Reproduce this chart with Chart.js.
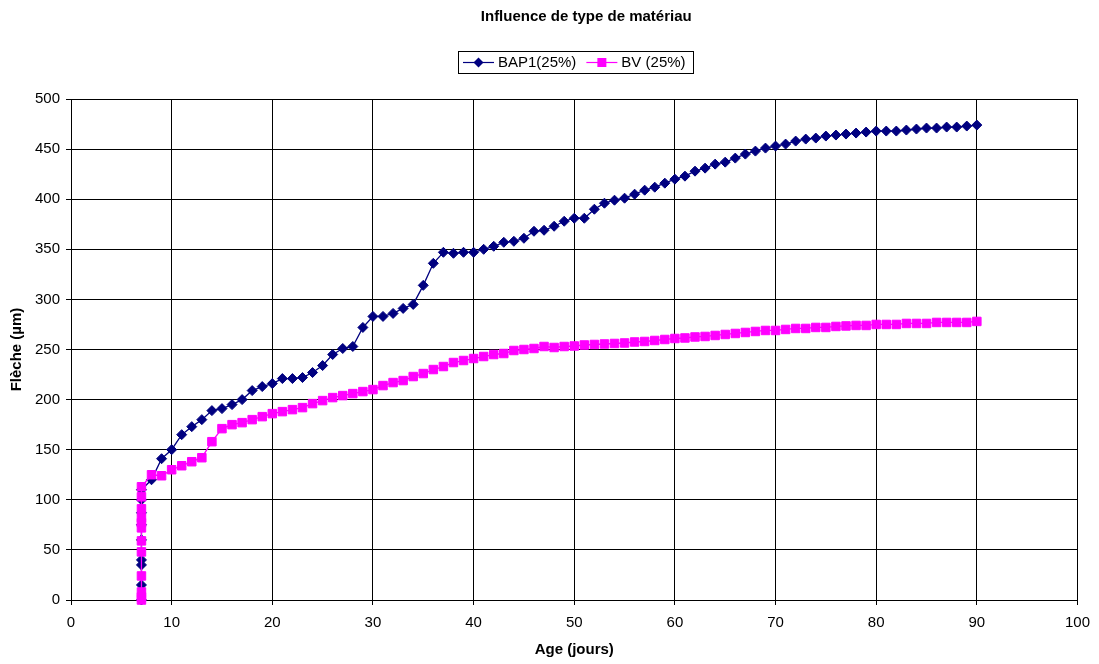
<!DOCTYPE html>
<html>
<head>
<meta charset="utf-8">
<script src="https://cdn.jsdelivr.net/npm/chart.js@4/dist/chart.umd.min.js"></script>
<style>
  html, body { margin: 0; padding: 0; background: #fff; }
  #wrap { width: 1099px; height: 664px; }
</style>
</head>
<body>
<div id="wrap"><canvas id="c" width="1099" height="664"></canvas></div>
<script>
// Âge (jours) et flèche mesurée (µm) pour chaque série
const ageBAP1 = [7, 7, 7, 7, 7, 7, 7, 7, 7,
  8, 9, 10, 11, 12, 13, 14, 15, 16, 17, 18, 19, 20, 21, 22, 23, 24, 25, 26, 27, 28, 29,
  30, 31, 32, 33, 34, 35, 36, 37, 38, 39, 40, 41, 42, 43, 44, 45, 46, 47, 48, 49,
  50, 51, 52, 53, 54, 55, 56, 57, 58, 59, 60, 61, 62, 63, 64, 65, 66, 67, 68, 69,
  70, 71, 72, 73, 74, 75, 76, 77, 78, 79, 80, 81, 82, 83, 84, 85, 86, 87, 88, 89, 90];
const flecheBAP1 = [0, 15, 35, 40, 60, 75, 87, 100, 110,
  120, 141, 150, 165, 173, 180, 189, 191, 195, 200, 209, 213, 216, 221, 221, 222, 227, 234, 245, 251, 253, 272,
  283, 283, 286, 291, 295, 314, 336, 347, 346, 347, 347, 350, 353, 357, 358, 361, 368, 369, 373, 378,
  381, 381, 390, 396, 399, 401, 405, 409, 412, 416, 420, 423, 428, 431, 435, 437, 441, 445, 448, 451,
  453, 455, 458, 460, 461, 463, 464, 465, 466, 467, 468, 468, 468, 469, 470, 471, 471, 472, 472, 473, 474];

const ageBV = [7, 7, 7, 7, 7, 7, 7, 7, 7, 7, 7, 7,
  8, 9, 10, 11, 12, 13, 14, 15, 16, 17, 18, 19, 20, 21, 22, 23, 24, 25, 26, 27, 28, 29,
  30, 31, 32, 33, 34, 35, 36, 37, 38, 39, 40, 41, 42, 43, 44, 45, 46, 47, 48, 49,
  50, 51, 52, 53, 54, 55, 56, 57, 58, 59, 60, 61, 62, 63, 64, 65, 66, 67, 68, 69,
  70, 71, 72, 73, 74, 75, 76, 77, 78, 79, 80, 81, 82, 83, 84, 85, 86, 87, 88, 89, 90];
const flecheBV = [0, 3, 8, 24, 48, 59, 72, 77, 82, 91, 103, 113,
  125, 124, 130, 134, 138, 142, 158, 171, 175, 177, 180, 183, 186, 188, 190, 192, 196, 199, 202, 204, 206, 208,
  210, 214, 217, 219, 223, 226, 230, 233, 237, 239, 241, 243, 245, 246, 249, 250, 251, 253, 252, 253,
  253.5, 254.5, 255, 255.5, 256, 256.5, 257.5, 258, 259, 260, 261, 261.5, 262.5, 263, 264, 265, 266, 267, 268, 269,
  269, 270, 271, 271, 272, 272, 273, 273.5, 274, 274, 275, 275, 275, 276, 276, 276, 277, 277, 277, 277, 278];

const seriesNames = ['BAP1(25%)', 'BV (25%)'];
const chartTitle = 'Influence de type de matériau';
const xTitle = 'Age (jours)';
const yTitle = 'Flèche (µm)';

const FONT = "'Liberation Sans', Arial, Helvetica, sans-serif";
const NAVY = '#000080';
const MAGENTA = '#FF00FF';

function toPoints(xs, ys) {
  return xs.map((x, i) => ({ x: x, y: ys[i] }));
}

// Chart heading plus a boxed legend (line segment + marker per series)
const headerAndLegend = {
  id: 'headerAndLegend',
  afterDraw(chart) {
    const ctx = chart.ctx;
    const area = chart.chartArea;
    const cxPlot = (area.left + area.right) / 2;
    ctx.save();

    // heading
    ctx.font = 'bold 15px ' + FONT;
    ctx.fillStyle = '#000';
    ctx.textAlign = 'center';
    ctx.textBaseline = 'middle';
    ctx.fillText(chartTitle, cxPlot + 12, 17);

    // legend
    ctx.font = '15px ' + FONT;
    const padL = 5, padR = 7, swatch = 31, gap = 4, itemGap = 10;
    const items = chart.data.datasets.map((ds, i) => ({
      ds: ds, shape: i === 0 ? 'diamond' : 'square', w: ctx.measureText(ds.label).width
    }));
    let total = padL + padR;
    items.forEach((it, i) => { total += swatch + gap + it.w + (i ? itemGap : 0); });
    const top = 51, h = 22, midY = top + h / 2;
    const left = Math.round(cxPlot + 1.5 - total / 2);
    ctx.strokeStyle = '#000';
    ctx.lineWidth = 1;
    ctx.strokeRect(left + 0.5, top + 0.5, Math.round(total), h);
    let x = left + padL;
    items.forEach((it, i) => {
      if (i) x += itemGap;
      const col = it.ds.borderColor;
      ctx.strokeStyle = col;
      ctx.lineWidth = 1.2;
      ctx.beginPath(); ctx.moveTo(x, midY + 0.5); ctx.lineTo(x + swatch, midY + 0.5); ctx.stroke();
      const mx = x + swatch / 2, my = midY + 0.5;
      ctx.fillStyle = col;
      ctx.beginPath();
      if (it.shape === 'diamond') {
        ctx.moveTo(mx, my - 5); ctx.lineTo(mx + 5, my); ctx.lineTo(mx, my + 5); ctx.lineTo(mx - 5, my);
      } else {
        ctx.rect(mx - 4.5, my - 4.5, 9, 9);
      }
      ctx.closePath(); ctx.fill();
      x += swatch + gap;
      ctx.fillStyle = '#000';
      ctx.textBaseline = 'middle';
      ctx.textAlign = 'left';
      ctx.fillText(it.ds.label, x, midY + 1);
      x += it.w;
    });
    ctx.restore();
  }
};

new Chart(document.getElementById('c'), {
  type: 'line',
  data: {
    datasets: [
      {
        label: seriesNames[0],
        data: toPoints(ageBAP1, flecheBAP1),
        borderColor: NAVY,
        backgroundColor: NAVY,
        borderWidth: 1.3,
        pointStyle: 'rectRot',
        pointRadius: 5,
        pointBorderWidth: 1,
        pointBackgroundColor: NAVY,
        pointBorderColor: NAVY,
        tension: 0,
        clip: false,
        order: 1
      },
      {
        label: seriesNames[1],
        data: toPoints(ageBV, flecheBV),
        borderColor: MAGENTA,
        backgroundColor: MAGENTA,
        borderWidth: 1.3,
        pointStyle: 'rect',
        pointRadius: 6,
        pointBorderWidth: 1,
        pointBackgroundColor: MAGENTA,
        pointBorderColor: MAGENTA,
        tension: 0,
        clip: false,
        order: 0
      }
    ]
  },
  options: {
    responsive: false,
    animation: false,
    devicePixelRatio: 1,
    layout: { padding: { left: 0, right: 21, top: 99, bottom: 0 } },
    plugins: {
      tooltip: { enabled: false },
      legend: { display: false },
      title: { display: false }
    },
    scales: {
      x: {
        type: 'linear',
        min: 0,
        max: 100,
        ticks: {
          stepSize: 10,
          color: '#000',
          font: { family: FONT, size: 15 },
          padding: 9,
          maxRotation: 0
        },
        grid: { color: '#000', lineWidth: 1, drawTicks: true, tickLength: 5, tickColor: '#000' },
        border: { color: '#000', width: 1 },
        title: {
          display: true,
          text: xTitle,
          color: '#000',
          font: { family: FONT, size: 15, weight: 'bold', lineHeight: 1.2 },
          padding: { top: 0, bottom: 5 }
        },
        afterFit: (s) => { s.height = 64; }
      },
      y: {
        type: 'linear',
        min: 0,
        max: 500,
        ticks: {
          stepSize: 50,
          color: '#000',
          font: { family: FONT, size: 15 },
          padding: 6
        },
        grid: { color: '#000', lineWidth: 1, drawTicks: true, tickLength: 5, tickColor: '#000' },
        border: { color: '#000', width: 1 },
        title: {
          display: true,
          text: yTitle,
          color: '#000',
          font: { family: FONT, size: 15, weight: 'bold', lineHeight: 1.2 },
          padding: { top: 8, bottom: 0 }
        },
        afterFit: (s) => { s.width = 71; }
      }
    }
  },
  plugins: [headerAndLegend]
});
</script>
</body>
</html>
